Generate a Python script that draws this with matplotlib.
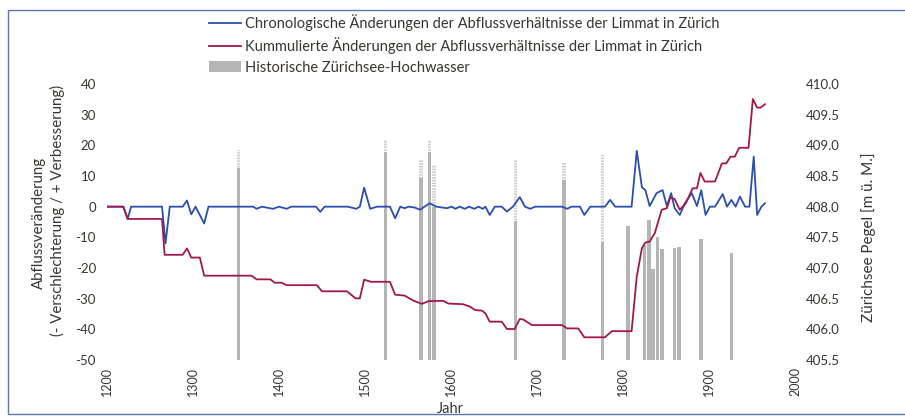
import matplotlib
matplotlib.use("Agg")
import matplotlib.pyplot as plt
from matplotlib.patches import Rectangle, Patch
from matplotlib.lines import Line2D

plt.rcParams['font.family'] = ['Lato', 'DejaVu Sans']
plt.rcParams['axes.unicode_minus'] = False
plt.rcParams['hatch.linewidth'] = 0.8

# Chronologische Änderungen (blue)
chrono_years = [1200, 1219, 1224, 1228, 1264, 1268, 1273, 1288, 1293, 1298, 1303, 1313, 1318,
                1370, 1374, 1380, 1393, 1400, 1409, 1414, 1443, 1448, 1453, 1480, 1490, 1494,
                1499, 1506, 1514, 1529, 1535, 1541, 1546, 1551, 1558, 1564, 1575, 1583, 1595,
                1601, 1605, 1610, 1616, 1621, 1627, 1632, 1637, 1640, 1645, 1651, 1659, 1665,
                1672, 1680, 1686, 1692, 1698, 1729, 1735, 1740, 1750, 1755, 1762, 1779, 1785,
                1791, 1810, 1816, 1822, 1826, 1831, 1839, 1846, 1851, 1856, 1860, 1866, 1872,
                1880, 1886, 1891, 1896, 1901, 1907, 1916, 1921, 1926, 1931, 1936, 1942, 1947,
                1952, 1956, 1961, 1965]
chrono_values = [0, 0, -4, 0, 0, -12, 0, 0, 2, -2.5, 0, -5.5, 0,
                 0, -0.7, 0, -0.7, 0, -0.7, 0, 0, -1.7, 0, 0, -0.7, 0,
                 6.2, -0.7, 0, 0, -3.8, 0, -0.5, 0, -0.3, -1, 1.1, 0, -0.5,
                 0, -0.7, 0, -0.7, 0, -0.7, 0, -0.7, 0, -2.7, 0, 0, -1.6,
                 0, 3.1, 0, -0.7, 0, 0, -0.7, 0, 0, -2.7, 0, 0, 2.2,
                 0, 0, 18.2, 6.3, 5.4, 0.2, 4.4, 5.4, 0.2, 4.4, -0.5, -2.7, 1.1,
                 4.4, 0.2, 5.4, -2.7, 0, 0, 4.1, 0, 2.2, 0, 3.3, 0, 0,
                 16.3, -2.7, 0, 1.1]

# Kummulierte Änderungen (red)
cum_years = [1200, 1219, 1224, 1264, 1267, 1288, 1293, 1298, 1308, 1313, 1368, 1374, 1390,
             1395, 1403, 1409, 1444, 1450, 1479, 1489, 1494, 1499, 1507, 1529, 1535, 1546,
             1556, 1566, 1574, 1591, 1597, 1614, 1622, 1628, 1636, 1640, 1645, 1659, 1665,
             1674, 1680, 1684, 1694, 1729, 1735, 1748, 1755, 1779, 1787, 1810, 1816, 1822,
             1826, 1831, 1837, 1845, 1851, 1855, 1860, 1866, 1873, 1881, 1886, 1890, 1895,
             1907, 1915, 1920, 1925, 1930, 1935, 1946, 1951, 1956, 1960, 1965]
cum_values = [0, 0, -4, -4, -15.7, -15.7, -13.6, -16.6, -16.6, -22.5, -22.5, -23.7, -23.7,
              -24.8, -24.8, -25.6, -25.6, -27.6, -27.6, -29.9, -29.9, -23.8, -24.5, -24.5, -28.7, -29,
              -30.6, -31.7, -30.8, -30.7, -31.6, -31.8, -32.6, -33.7, -33.9, -34.8, -37.5, -37.5, -39.9,
              -39.9, -36.6, -36.8, -38.6, -38.6, -39.7, -39.7, -42.6, -42.6, -40.6, -40.6, -22.8, -13.5,
              -11.7, -11.4, -8.6, -1, -0.5, 3, 2.5, -1, 1.1, 6, 6, 11, 8.2,
              8.2, 14.1, 14.1, 16.3, 16.3, 19.2, 19.2, 35.1, 32.3, 32.3, 33.4]

# Historische Zürichsee-Hochwasser (level in m ü. M.)
flood_years = [1353, 1524, 1565, 1575, 1580, 1675, 1731, 1776, 1806, 1825, 1830, 1835, 1840,
               1845, 1860, 1865, 1891, 1926]
flood_level = [408.63, 408.89, 408.47, 408.89, 408.0, 407.76, 408.43, 407.43, 407.69, 407.38,
               407.78, 406.99, 407.51, 407.31, 407.32, 407.35, 407.48, 407.25]
flood_level_max = [408.92, 409.09, 408.76, 409.09, 408.68, 408.76, 408.73, 408.84, 407.69, 407.38,
                   407.78, 406.99, 407.51, 407.31, 407.32, 407.35, 407.48, 407.25]

x_ticks = [1200, 1300, 1400, 1500, 1600, 1700, 1800, 1900, 2000]
left_ticks = [40, 30, 20, 10, 0, -10, -20, -30, -40, -50]
right_ticks = [410.0, 409.5, 409.0, 408.5, 408.0, 407.5, 407.0, 406.5, 406.0, 405.5]

label_blue = "Chronologische Änderungen der Abflussverhältnisse der Limmat in Zürich"
label_red = "Kummulierte Änderungen der Abflussverhältnisse der Limmat in Zürich"
label_bar = "Historische Zürichsee-Hochwasser"

BLUE = '#2b4fae'
RED = '#a3174f'
GREY = '#b5b5b5'
GREY_LIGHT = '#cfcfcf'
TXT = '#3a3530'

fig = plt.figure(figsize=(9.05, 4.16), dpi=100)
ax = fig.add_axes([107/905, 1-360/416, 688/905, 276/416])
ax2 = ax.twinx()

bottom = 405.5
ax2.bar(flood_years, [l - bottom for l in flood_level], bottom=bottom, width=4.3,
        color=GREY, linewidth=0)
ax2.bar(flood_years, [m - l for m, l in zip(flood_level_max, flood_level)], bottom=flood_level,
        width=4.3, color=GREY_LIGHT, edgecolor='white', linewidth=0, hatch='------')

ax.plot(chrono_years, chrono_values, color=BLUE, lw=1.3)
ax.plot(cum_years, cum_values, color=RED, lw=1.3)

ax.set_zorder(ax2.get_zorder() + 1)
ax.patch.set_visible(False)

ax.set_xlim(1200, 2000)
ax.set_ylim(-50, 40)
ax2.set_ylim(405.5, 410.0)
ax.set_xticks(x_ticks)
ax.set_xticklabels([str(v) for v in x_ticks], rotation=90)
ax.set_yticks(left_ticks)
ax.set_yticklabels([str(v) for v in left_ticks])
ax2.set_yticks(right_ticks)
ax2.set_yticklabels([f"{v:.1f}" for v in right_ticks])

for a in (ax, ax2):
    for s in a.spines.values():
        s.set_visible(False)
ax.tick_params(axis='both', length=0, labelsize=9.5, colors=TXT)
ax.tick_params(axis='x', pad=5, labelsize=9)
ax.tick_params(axis='y', pad=8)
ax2.tick_params(axis='y', length=0, labelsize=9.5, colors=TXT, pad=8)

fig.text(450/905, 1-409/416, "Jahr", ha='center', va='center', fontsize=10.5, color=TXT)
fig.text(39/905, 1-223/416, "Abflussveränderung", rotation=90, ha='center', va='center',
         fontsize=10.8, color=TXT)
fig.text(57/905, 1-210/416, "(- Verschlechterung / + Verbesserung)", rotation=90,
         ha='center', va='center', fontsize=10.8, color=TXT)
fig.text(869/905, 1-237/416, "Zürichsee Pegel [m ü. M.]", rotation=90, ha='center',
         va='center', fontsize=11, color=TXT)

handles = [Line2D([], [], color=BLUE, lw=1.3),
           Line2D([], [], color=RED, lw=1.3),
           Patch(facecolor=GREY, edgecolor='none')]
fig.legend(handles, [label_blue, label_red, label_bar], loc='upper left',
           bbox_to_anchor=(203/905, 1-8/416), frameon=False, fontsize=10.5,
           handlelength=2.2, handletextpad=0.25, labelspacing=0.45, labelcolor=TXT,
           borderaxespad=0)

# outer frame
fig.add_artist(Rectangle((8/905, 2/416), 1.2, 1-12/416, transform=fig.transFigure,
                         fill=False, edgecolor='#5b78b0', lw=1.0))

fig.savefig('out.png', dpi=100)
